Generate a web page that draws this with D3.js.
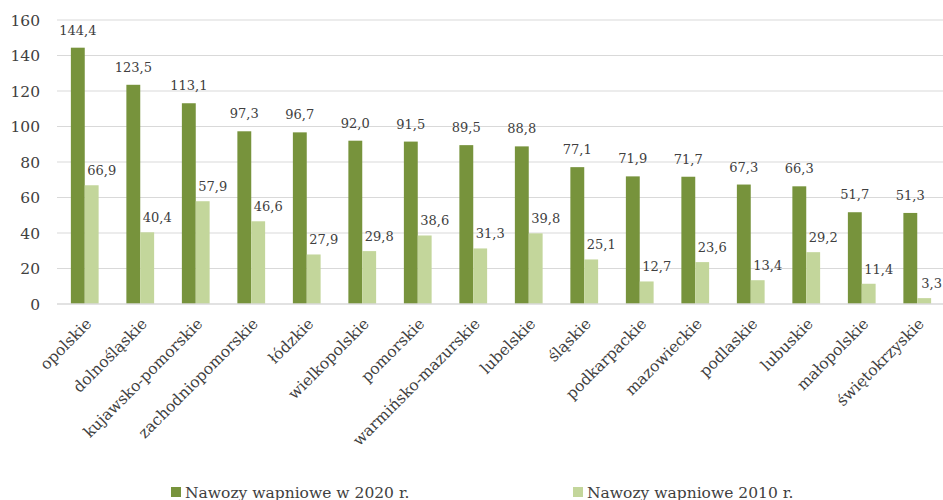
<!DOCTYPE html>
<html><head><meta charset="utf-8">
<script src="https://cdn.jsdelivr.net/npm/d3@7"></script>
<style>html,body{margin:0;padding:0;background:#fff;}svg{display:block;}</style>
</head><body>
<svg id="chart" width="943" height="500"></svg>
<script>
const categories = ["opolskie","dolnośląskie","kujawsko-pomorskie","zachodniopomorskie","łódzkie","wielkopolskie","pomorskie","warmińsko-mazurskie","lubelskie","śląskie","podkarpackie","mazowieckie","podlaskie","lubuskie","małopolskie","świętokrzyskie"];
const values2020 = [144.4,123.5,113.1,97.3,96.7,92.0,91.5,89.5,88.8,77.1,71.9,71.7,67.3,66.3,51.7,51.3];
const values2010 = [66.9,40.4,57.9,46.6,27.9,29.8,38.6,31.3,39.8,25.1,12.7,23.6,13.4,29.2,11.4,3.3];
const yTicks = [0,20,40,60,80,100,120,140,160];
const seriesNames = ["Nawozy wapniowe w 2020 r.","Nawozy wapniowe 2010 r."];
const colors = ["#77933C","#C3D69B"];

const svg = d3.select("#chart");
const font = "'DejaVu Serif', serif";
const textColor = "#404040";
const W = 943;
const mLeft = 57, mRight = 945, mTop = 20, mBottom = 304;

const x = d3.scaleBand().domain(categories).range([mLeft, mRight]).paddingInner(0.5).paddingOuter(0.25);
const y = d3.scaleLinear().domain([0,160]).range([mBottom, mTop]);
const bw = x.bandwidth()/2;
const fmt = v => v.toFixed(1).replace(".", ",");

// gridlines
svg.append("g").selectAll("line").data(yTicks.filter(t=>t>0)).join("line")
  .attr("x1", mLeft).attr("x2", W).attr("y1", d=>y(d)).attr("y2", d=>y(d))
  .attr("stroke", "#d9d9d9").attr("stroke-width", 1);

// y axis labels
const yAxis = d3.axisLeft(y).tickValues(yTicks).tickSize(0).tickPadding(0);
const ya = svg.append("g").attr("transform", `translate(40,0)`).call(yAxis);
ya.select(".domain").remove();
ya.selectAll("text").attr("font-family", font).attr("font-size", "15.5px").attr("fill", textColor).attr("dy","0.35em");

// bars
const groups = svg.append("g").selectAll("g").data(categories).join("g");
groups.append("rect")
  .attr("x", d=>x(d)).attr("width", bw)
  .attr("y", (d,i)=>y(values2020[i])).attr("height", (d,i)=>y(0)-y(values2020[i]))
  .attr("fill", colors[0]);
groups.append("rect")
  .attr("x", d=>x(d)+bw).attr("width", bw)
  .attr("y", (d,i)=>y(values2010[i])).attr("height", (d,i)=>y(0)-y(values2010[i]))
  .attr("fill", colors[1]);

// axis line
svg.append("line").attr("x1", mLeft).attr("x2", W).attr("y1", y(0)).attr("y2", y(0))
  .attr("stroke", "#d9d9d9").attr("stroke-width", 1.5);

// data labels
groups.append("text")
  .attr("x", d=>x(d)+bw/2).attr("y", (d,i)=>y(values2020[i])-13)
  .attr("text-anchor","middle").attr("font-family", font).attr("font-size","13px").attr("fill", textColor)
  .text((d,i)=>fmt(values2020[i]));
groups.append("text")
  .attr("y", (d,i)=>y(values2010[i])-10)
  .attr("text-anchor","middle").attr("font-family", font).attr("font-size","13px").attr("fill", textColor)
  .text((d,i)=>fmt(values2010[i]))
  .attr("x", function(d){
    const w = this.getComputedTextLength();
    return Math.min(x(d)+bw*1.5+10, W - 1 - w/2);
  });

// x labels
svg.append("g").selectAll("text").data(categories).join("text")
  .attr("transform", d=>`translate(${x(d)+bw+4},${mBottom+17}) rotate(-45)`)
  .attr("text-anchor","end").attr("dy","0.35em")
  .attr("font-family", font).attr("font-size","15.5px").attr("fill", textColor)
  .text(d=>d);

// legend
const legendX = [171, 573];
const lg = svg.append("g").selectAll("g").data(seriesNames).join("g")
  .attr("transform", (d,i)=>`translate(${legendX[i]},487)`);
lg.append("rect").attr("width",10).attr("height",10).attr("fill",(d,i)=>colors[i]);
lg.append("text").attr("x",14).attr("y",10.5).attr("font-family", font).attr("font-size","15.5px").attr("fill", textColor).text(d=>d);
</script>
</body></html>
